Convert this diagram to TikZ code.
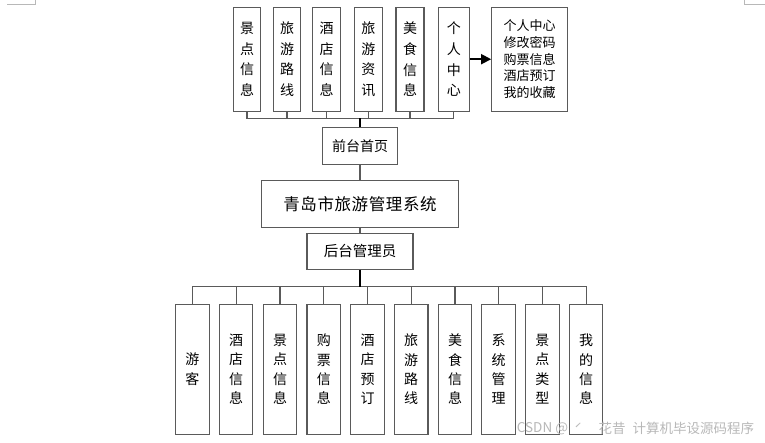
\documentclass[tikz,border=0pt]{standalone}
\usepackage{fontspec}
\newfontfamily\cjk{Noto Sans CJK SC}
\usetikzlibrary{arrows.meta}
\definecolor{boxline}{HTML}{5A5A5A}
\definecolor{wmark}{HTML}{B8B8B8}
\tikzset{
  vbox/.style={draw=boxline, line width=1.1pt, fill=white, inner sep=0pt, align=center,
    minimum height=103.7pt, font=\cjk\fontsize{14}{20.7}\selectfont},
  lbox/.style={draw=boxline, line width=1.1pt, fill=white, inner sep=0pt, align=center,
    minimum width=33.6pt, minimum height=130pt, font=\cjk\fontsize{14}{19.3}\selectfont},
  hbox/.style={draw=boxline, line width=1.1pt, fill=white, inner sep=0pt, align=center},
  conn/.style={draw=boxline, line width=1.1pt},
  trunk/.style={draw=black, line width=1.8pt},
  wm/.style={anchor=west, inner sep=0pt, text=wmark, font=\cjk\fontsize{13.5}{15}\selectfont},
}
\begin{document}
\begin{tikzpicture}[x=1pt,y=-1pt]
\useasboundingbox (0,0) rectangle (765,442);
% corner marks
\draw[wmark, line width=0.8pt] (7,4.3) -- (35,4.3) -- (35,0);
\draw[wmark, line width=0.8pt] (744,0) -- (744,4.3) -- (765,4.3);

% top row
\node[vbox, minimum width=27.5pt] (t1) at (247,59.2) {景\\点\\信\\息};
\node[vbox, minimum width=27.5pt] (t2) at (287,59.2) {旅\\游\\路\\线};
\node[vbox, minimum width=28pt] (t3) at (326.7,59.2) {酒\\店\\信\\息};
\node[vbox, minimum width=28pt] (t4) at (368.3,59.2) {旅\\游\\资\\讯};
\node[vbox, minimum width=28pt] (t5) at (410,59.2) {美\\食\\信\\息};
\node[vbox, minimum width=31pt] (t6) at (453.8,59.2) {个\\人\\中\\心};
\node[hbox, minimum width=76pt, minimum height=103.7pt, align=left,
      font=\cjk\fontsize{13}{16.7}\selectfont] (t7) at (529.7,59.2)
  {个人中心\\修改密码\\购票信息\\酒店预订\\我的收藏};
\draw[trunk, -{Triangle[length=10pt,width=10pt]}] (t6.east) -- (t7.west);

% middle
\node[hbox, minimum width=74.6pt, minimum height=36.7pt, font=\cjk\fontsize{14}{16}\selectfont] (front) at (360,145.7) {前台首页};
\node[hbox, minimum width=196.6pt, minimum height=46.6pt, font=\cjk\fontsize{16.5}{18}\selectfont] (sys) at (360,204) {青\hspace{0.6pt}岛\hspace{0.6pt}市\hspace{0.6pt}旅\hspace{0.6pt}游\hspace{0.6pt}管\hspace{0.6pt}理\hspace{0.6pt}系\hspace{0.6pt}统};
\node[hbox, minimum width=106pt, minimum height=35.7pt, font=\cjk\fontsize{14.5}{16}\selectfont] (admin) at (360,251.2) {后台管理员};

\coordinate (topbus) at (360,118.3);
\coordinate (botbus) at (360,286.7);

% top bus
\draw[conn] (t1.south) |- (t6.south |- topbus) -- (t6.south);
\foreach \n in {t2,t3,t4,t5} \draw[conn] (\n.south) -- (\n.south |- topbus);
\draw[trunk] (topbus) -- (front.north);
\draw[conn] (front.south) -- (sys.north);
\draw[conn] (sys.south) -- (admin.north);

% bottom row
\node[lbox] (b1) at (192.4,369.3) {游\\客};
\node[lbox] (b2) at (236.1,369.3) {酒\\店\\信\\息};
\node[lbox] (b3) at (280,369.3) {景\\点\\信\\息};
\node[lbox] (b4) at (323.8,369.3) {购\\票\\信\\息};
\node[lbox] (b5) at (367.5,369.3) {酒\\店\\预\\订};
\node[lbox] (b6) at (411.2,369.3) {旅\\游\\路\\线};
\node[lbox] (b7) at (455,369.3) {美\\食\\信\\息};
\node[lbox] (b8) at (498.7,369.3) {系\\统\\管\\理};
\node[lbox] (b9) at (542.4,369.3) {景\\点\\类\\型};
\node[lbox] (b10) at (586.1,369.3) {我\\的\\信\\息};

\draw[conn] (b1.north) |- (b10.north |- botbus) -- (b10.north);
\foreach \n in {b2,b3,b4,b5,b6,b7,b8,b9} \draw[conn] (\n.north) -- (\n.north |- botbus);
\draw[trunk] (admin.south) -- (botbus);

% watermark
\node[wm] (wm1) at (516.7,428.5) {CSDN @};
\node[wm] (wm2) at (574,428.5) {ˊ};
\node[wm] (wm3) at (598.5,428.5) {花昔};
\node[wm] (wm4) at (632.5,428.5) {计算机毕设源码程序};
\end{tikzpicture}
\end{document}
